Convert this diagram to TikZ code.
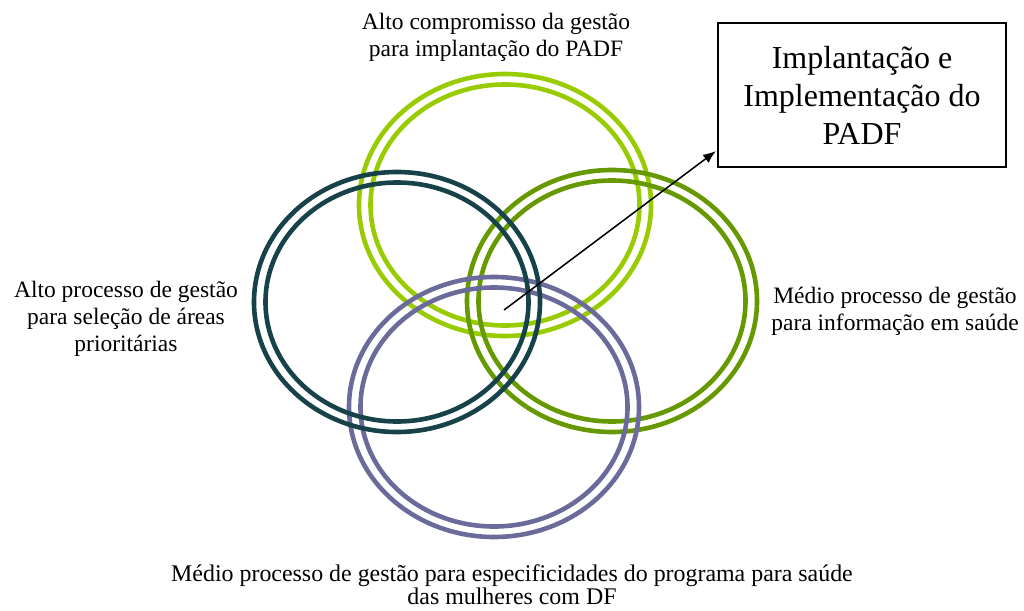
\documentclass[tikz,border=0pt]{standalone}
\usepackage{fontspec}
\setmainfont{Liberation Serif}
\usetikzlibrary{arrows.meta}
\definecolor{ringA}{HTML}{99CC00}
\definecolor{ringB}{HTML}{17424A}
\definecolor{ringC}{HTML}{669900}
\definecolor{ringD}{HTML}{6B6B9B}
\tikzset{
  ring/.style={line width=4.6pt},
  lbl/.style={align=center, inner sep=0pt, font=\fontsize{23.5}{27}\selectfont},
  bigbox/.style={draw, line width=1.6pt, minimum width=288pt, minimum height=144pt, inner sep=0pt, align=center, font=\fontsize{32}{38}\selectfont},
}
\newcommand{\dblring}[5]{%
  \draw[ring,#1] (#2,#3) ellipse [x radius=#4, y radius=#5];
  \draw[ring,#1] (#2,#3) ellipse [x radius=#4-11.5, y radius=#5-10.5];
}
\begin{document}
\begin{tikzpicture}[x=1pt,y=-1pt]
\useasboundingbox (0,0) rectangle (1024,610);
\dblring{ringA}{505}{205}{146}{131}
\dblring{ringC}{612}{301}{145}{131}
\dblring{ringD}{494}{407}{145}{130}
\dblring{ringB}{397}{302}{143}{130}
\node[lbl] (top) at (496,37) {Alto compromisso da gestão\\para implantação do PADF};
\node[lbl] (left) at (126,319) {Alto processo de gestão\\para seleção de áreas\\prioritárias};
\node[lbl] (right) at (895,311) {Médio processo de gestão\\para informação em saúde};
\node[lbl, font=\fontsize{23.9}{23}\selectfont] (bottom) at (512,585) {Médio processo de gestão para especificidades do programa para saúde\\das mulheres com DF};
\node[bigbox] (box) at (862,95) {Implantação e\\Implementação do\\PADF};
\coordinate (start) at (504,310);
\coordinate (tip) at (716,151);
\draw[line width=1.5pt, -{Latex[length=13pt,width=10pt]}] (start) -- (tip);
\end{tikzpicture}
\end{document}
